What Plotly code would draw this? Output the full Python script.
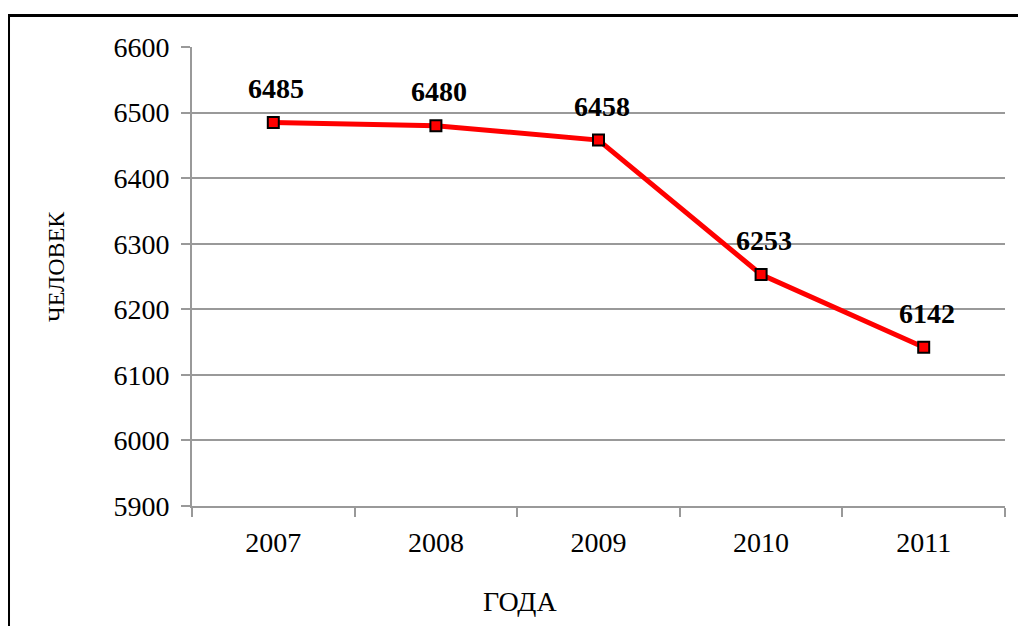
import plotly.graph_objects as go

years = ["2007", "2008", "2009", "2010", "2011"]
people = [6485, 6480, 6458, 6253, 6142]
y_ticks = [5900, 6000, 6100, 6200, 6300, 6400, 6500, 6600]

FONT = "Liberation Serif"
xpos = list(range(len(years)))
bounds = [i - 0.5 for i in range(len(years) + 1)]

fig = go.Figure()
fig.add_trace(go.Scatter(
    x=xpos, y=people, mode="lines+markers",
    line=dict(color="#ff0000", width=5),
    marker=dict(symbol="square", size=11, color="#ff0000",
                line=dict(color="black", width=2)),
    showlegend=False, hoverinfo="y",
))

for x, y in zip(xpos, people):
    fig.add_annotation(x=x, y=y, text=f"<b>{y}</b>", showarrow=False,
                       yshift=34, xshift=3,
                       font=dict(family=FONT, size=28, color="black"))

# axis titles
fig.add_annotation(xref="paper", yref="paper", x=0.4034, y=-0.209,
                   text="ГОДА", showarrow=False, xanchor="center", yanchor="middle",
                   font=dict(family=FONT, size=28, color="black"))
fig.add_annotation(xref="paper", yref="paper", x=-0.1673, y=0.523,
                   text="ЧЕЛОВЕК", showarrow=False, textangle=-90,
                   xanchor="center", yanchor="middle",
                   font=dict(family=FONT, size=24, color="black"))

fig.update_layout(
    width=1026, height=626,
    margin=dict(l=184, r=29, t=39, b=128),
    paper_bgcolor="white", plot_bgcolor="white",
    font=dict(family=FONT, size=28, color="black"),
    xaxis=dict(
        range=[-0.5, len(years) - 0.5], tickvals=xpos, ticktext=years,
        ticks="", showline=True, linecolor="#999999", linewidth=2,
        showgrid=False, zeroline=False, tickangle=0, ticklabelstandoff=10,
        minor=dict(tickvals=bounds, ticks="outside", ticklen=9,
                   tickcolor="#999999", tickwidth=2, showgrid=False),
    ),
    yaxis=dict(
        range=[5900, 6600], tickvals=y_ticks, ticks="outside", ticklen=9,
        tickcolor="#999999", tickwidth=2, showline=True, linecolor="#999999",
        linewidth=2, showgrid=True, gridcolor="#999999", gridwidth=1.5,
        zeroline=False, ticklabelstandoff=6,
    ),
    shapes=[dict(type="rect", xref="paper", yref="paper",
                 x0=-0.2257, x1=1.2, y0=-0.6, y1=1.0686,
                 line=dict(color="black", width=3), layer="below")],
)

fig.write_html("out.html")
